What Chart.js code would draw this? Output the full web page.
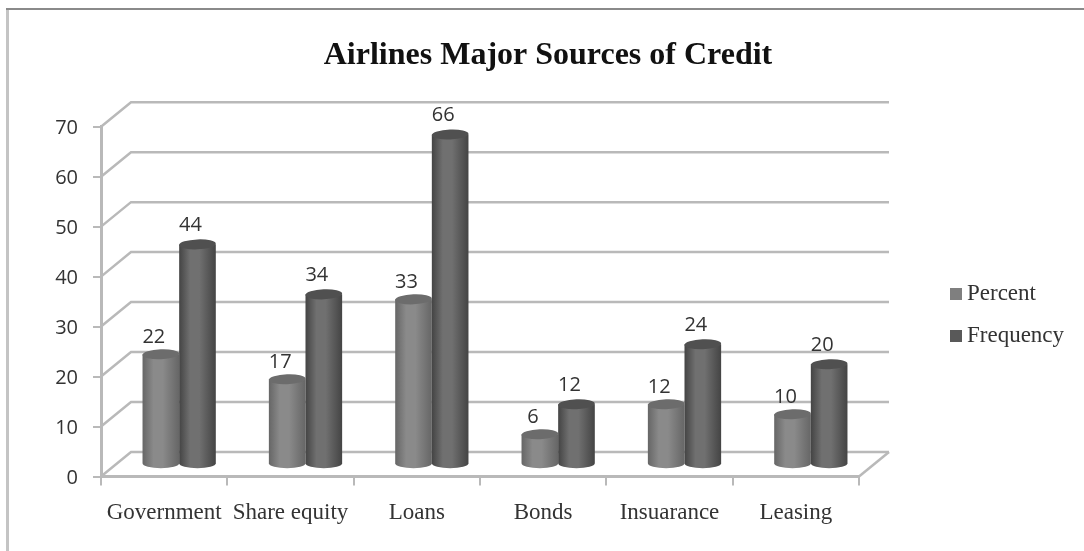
<!DOCTYPE html>
<html>
<head>
<meta charset="utf-8">
<title>Airlines Major Sources of Credit</title>
<script src="https://cdn.jsdelivr.net/npm/chart.js@4"></script>
<style>
  html, body { margin: 0; padding: 0; background: #fff; overflow: hidden; }
  #wrap { width: 1084px; height: 551px; }
  /* the source picture is a soft scan */
  #chart { filter: blur(0.5px); }
</style>
</head>
<body>
<div id="wrap"><canvas id="chart" width="1084" height="551"></canvas></div>
<script>
const categories = ["Government", "Share equity", "Loans", "Bonds", "Insuarance", "Leasing"];
const percentValues = [22, 17, 33, 6, 12, 10];
const frequencyValues = [44, 34, 66, 12, 24, 20];

const SERIF = '"Liberation Serif"';
const SANS = '"Open Sans"';
const GRID = '#b9b9b9';
const TEXT = '#333';

// depth of the fake 3D box
const DX = 30;
const DY = 24.5;
const RY = 5;

// body shading, cap colour and label lift per series
const shades = [
  { edge: '#666666', mid: '#8a8a8a', cap: '#6c6c6c', lift: 17 },
  { edge: '#444444', mid: '#707070', cap: '#505050', lift: 19 }
];

function drawWalls(chart) {
  const ctx = chart.ctx;
  const y = chart.scales.y;
  const { left, right } = chart.chartArea;
  ctx.save();
  ctx.strokeStyle = GRID;
  ctx.lineWidth = 2.5;
  y.ticks.forEach(t => {
    const py = y.getPixelForValue(t.value);
    ctx.beginPath();
    ctx.moveTo(left, py);
    ctx.lineTo(left + DX, py - DY);
    ctx.lineTo(right + DX, py - DY);
    ctx.stroke();
  });
  // floor, right edge
  const y0 = y.getPixelForValue(0);
  ctx.beginPath();
  ctx.moveTo(right, y0);
  ctx.lineTo(right + DX, y0 - DY);
  ctx.stroke();
  ctx.restore();
}

function drawCylinder(ctx, bar, shade) {
  const cx = bar.x + DX / 2;
  const top = bar.y - DY / 2;
  const bottom = bar.base - DY / 2;
  const rx = bar.width / 2;

  const grad = ctx.createLinearGradient(cx - rx, 0, cx + rx, 0);
  grad.addColorStop(0, shade.edge);
  grad.addColorStop(0.3, shade.mid);
  grad.addColorStop(0.55, shade.mid);
  grad.addColorStop(1, shade.edge);

  ctx.fillStyle = grad;
  ctx.beginPath();
  ctx.moveTo(cx - rx, top);
  ctx.lineTo(cx - rx, bottom);
  ctx.ellipse(cx, bottom, rx, RY, 0, Math.PI, 0, true);
  ctx.lineTo(cx + rx, top);
  ctx.closePath();
  ctx.fill();

  ctx.fillStyle = shade.cap;
  ctx.beginPath();
  ctx.ellipse(cx, top, rx, RY, -0.04, 0, Math.PI * 2);
  ctx.fill();
}

const cylinderPlugin = {
  id: 'cylinders',
  afterLayout(chart) {
    // title is centred a bit right of the page centre
    chart.titleBlock.left = 0;
    chart.titleBlock.right = 1096;
  },
  beforeDraw(chart) {
    const ctx = chart.ctx;
    ctx.save();
    ctx.fillStyle = '#c4c4c4';
    ctx.fillRect(6, 9, 3, 542);
    ctx.fillStyle = '#8a8a8a';
    ctx.fillRect(6, 8, 1078, 2);
    ctx.restore();
  },
  beforeDatasetsDraw(chart) {
    const ctx = chart.ctx;
    drawWalls(chart);
    // Frequency sits in front of Percent, so draw in dataset order
    chart.data.datasets.forEach((ds, i) => {
      chart.getDatasetMeta(i).data.forEach(bar => {
        drawCylinder(ctx, bar.getProps(['x', 'y', 'base', 'width'], true), shades[i]);
      });
    });
    ctx.save();
    ctx.font = '20px ' + SANS;
    ctx.fillStyle = TEXT;
    ctx.textAlign = 'center';
    ctx.textBaseline = 'middle';
    chart.data.datasets.forEach((ds, i) => {
      chart.getDatasetMeta(i).data.forEach((bar, j) => {
        ctx.fillText(ds.data[j], bar.x + DX / 2 - 7, bar.y - DY / 2 - shades[i].lift);
      });
    });
    ctx.restore();
    return false;
  },
  afterDraw(chart) {
    const ctx = chart.ctx;
    ctx.save();
    ctx.font = '23px ' + SERIF;
    ctx.textBaseline = 'middle';
    chart.data.datasets.forEach((ds, i) => {
      const rowY = 294 + i * 42;
      ctx.fillStyle = ds.backgroundColor;
      ctx.fillRect(950, rowY - 6, 12, 12);
      ctx.fillStyle = TEXT;
      ctx.fillText(ds.label, 967, rowY);
    });
    ctx.restore();
  }
};

new Chart(document.getElementById('chart'), {
  type: 'bar',
  data: {
    labels: categories,
    datasets: [
      { label: 'Percent', data: percentValues, backgroundColor: '#7f7f7f' },
      { label: 'Frequency', data: frequencyValues, backgroundColor: '#595959' }
    ]
  },
  options: {
    responsive: false,
    animation: false,
    events: [],
    layout: { autoPadding: false, padding: { left: 0, right: 225, top: 0, bottom: 0 } },
    datasets: { bar: { categoryPercentage: 0.58, barPercentage: 1 } },
    plugins: {
      legend: { display: false },
      tooltip: { enabled: false },
      title: {
        display: true,
        text: 'Airlines Major Sources of Credit',
        color: '#111',
        font: { family: SERIF, size: 32, weight: 'bold' },
        padding: { top: 37, bottom: 51.3 }
      }
    },
    scales: {
      x: {
        afterFit(scale) { scale.height = 74.5; },
        border: { color: GRID, width: 3 },
        grid: { color: GRID, lineWidth: 2, drawOnChartArea: false, tickLength: 9 },
        ticks: { color: TEXT, font: { family: SERIF, size: 23 }, padding: 14, maxRotation: 0, autoSkip: false }
      },
      y: {
        min: 0,
        max: 70,
        afterFit(scale) { scale.width = 101; },
        border: { color: GRID, width: 3 },
        grid: { color: GRID, lineWidth: 2, drawOnChartArea: false, tickLength: 8 },
        ticks: { stepSize: 10, color: TEXT, font: { family: SANS, size: 20 }, padding: 15, labelOffset: 2 }
      }
    }
  },
  plugins: [cylinderPlugin]
});
</script>
</body>
</html>
